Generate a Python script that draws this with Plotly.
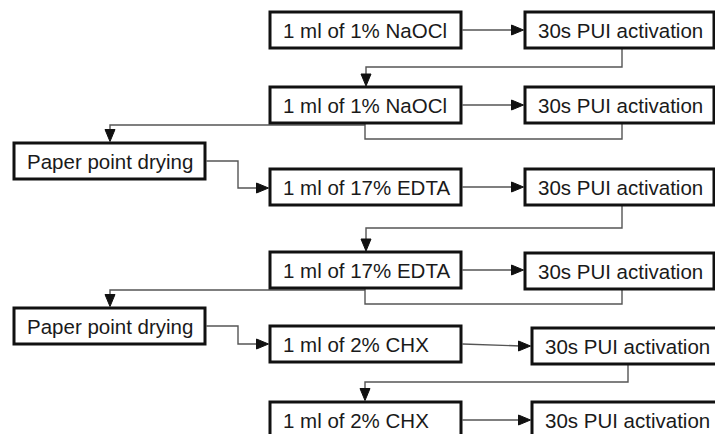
import plotly.graph_objects as go

# ---- content ----
step_labels = ["1 ml of 1% NaOCl", "1 ml of 1% NaOCl", "1 ml of 17% EDTA",
               "1 ml of 17% EDTA", "1 ml of 2% CHX", "1 ml of 2% CHX"]
activation_labels = ["30s PUI activation"] * 6
drying_labels = ["Paper point drying", "Paper point drying"]

# ---- geometry (pixel layout) ----
row_top = [12, 87, 169, 252, 326, 402]
right_top = [12, 87, 169, 253, 328, 402]
box_h = 36
left_x0, left_x1 = 270, 461
right_x0 = [525, 525, 525, 525, 532, 532]
right_x1 = [714, 714, 714, 714, 724, 724]
dry_top = [143, 308]
dry_x0, dry_x1 = 14, 205

BOX_LINE = dict(color="#111111", width=3)
CONN = dict(color="#555555", width=1.4)
FONT = dict(family="Liberation Sans, Arial, sans-serif", size=20.5, color="#1a1a1a")

shapes = []
annotations = []


def box(x0, y0, x1, y1, text):
    shapes.append(dict(type="rect", xref="x", yref="y", x0=x0, y0=y0, x1=x1, y1=y1,
                       line=BOX_LINE, fillcolor="white", layer="above"))
    annotations.append(dict(x=x0 + 11, y=(y0 + y1) / 2, xref="x", yref="y", text=text,
                            showarrow=False, xanchor="left", yanchor="middle", font=FONT))


def polyline(pts):
    d = "M " + " L ".join(f"{x},{y}" for x, y in pts)
    shapes.append(dict(type="path", xref="x", yref="y", path=d, line=CONN,
                       fillcolor="rgba(0,0,0,0)", layer="below"))


def head_right(tx, ty):
    d = f"M {tx-12},{ty-5} L {tx},{ty} L {tx-12},{ty+5} Z"
    shapes.append(dict(type="path", xref="x", yref="y", path=d,
                       line=dict(color="#111111", width=1), fillcolor="#111111", layer="above"))


def head_down(tx, ty):
    d = f"M {tx-5},{ty-12} L {tx},{ty} L {tx+5},{ty-12} Z"
    shapes.append(dict(type="path", xref="x", yref="y", path=d,
                       line=dict(color="#111111", width=1), fillcolor="#111111", layer="above"))


# boxes
for i, lab in enumerate(step_labels):
    box(left_x0, row_top[i], left_x1, row_top[i] + box_h, lab)
for i, lab in enumerate(activation_labels):
    box(right_x0[i], right_top[i], right_x1[i], right_top[i] + box_h, lab)
for i, lab in enumerate(drying_labels):
    box(dry_x0, dry_top[i], dry_x1, dry_top[i] + box_h, lab)

# horizontal arrows step -> activation
for i in range(6):
    y_start = row_top[i] + box_h / 2
    y_end = right_top[i] + box_h / 2 if i == 4 else y_start
    tip = right_x0[i] - 1.5
    polyline([(left_x1 + 1.5, y_start), (tip - 10, y_end)])
    head_right(tip, y_end)

# activation -> next step (simple down connectors)
polyline([(622, 48), (622, 67), (366, 67), (366, 80)])
head_down(366, 86)
polyline([(622, 205), (622, 228), (366, 228), (366, 245)])
head_down(366, 251)
polyline([(628, 364), (628, 382), (365, 382), (365, 395)])
head_down(365, 400.5)

# activation -> paper point drying
polyline([(622, 123), (622, 139), (365, 139), (365, 123)])
polyline([(365, 125), (110, 125), (110, 136)])
head_down(110, 141.5)
polyline([(622, 289), (622, 304), (365, 304), (365, 289)])
polyline([(365, 290), (110, 290), (110, 300)])
head_down(110, 306.5)

# paper point drying -> next step
polyline([(dry_x1 + 1.5, 161), (238, 161), (238, 188), (258, 188)])
head_right(268.5, 188)
polyline([(dry_x1 + 1.5, 326), (238, 326), (238, 344), (258, 344)])
head_right(268.5, 344)

fig = go.Figure()
fig.update_layout(
    width=715, height=434,
    margin=dict(l=0, r=0, t=0, b=0),
    paper_bgcolor="white", plot_bgcolor="white",
    xaxis=dict(range=[0, 715], visible=False, fixedrange=True),
    yaxis=dict(range=[434, 0], visible=False, fixedrange=True),
    shapes=shapes, annotations=annotations, showlegend=False,
)
fig.write_html("out.html",
               config={"displayModeBar": False},
               post_script="document.body.style.margin='0';document.body.style.overflow='hidden';")
